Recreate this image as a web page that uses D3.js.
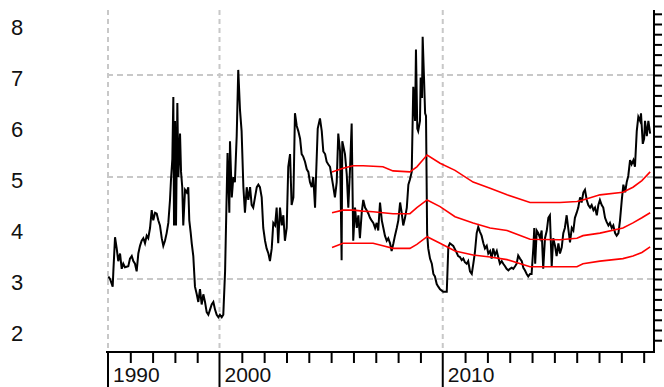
<!DOCTYPE html>
<html>
<head>
<meta charset="utf-8">
<script src="https://cdn.jsdelivr.net/npm/d3@7"></script>
<style>
  body { margin: 0; background: #fff; }
  svg { display: block; font-family: Arial, "Liberation Sans", sans-serif; }
</style>
</head>
<body>
<div id="chart"></div>
<script>
// observed series (decimal year, value)
const dates = [
  1990.03, 1990.18, 1990.42, 1990.48, 1990.63, 1990.78, 1990.92, 1991.08, 1991.23, 1991.37,
  1991.52, 1991.82, 1991.97, 1992.13, 1992.27, 1992.42, 1992.57, 1992.72, 1992.87, 1993.02,
  1993.17, 1993.32, 1993.47, 1993.61, 1993.77, 1993.92, 1994.06, 1994.22, 1994.37, 1994.51,
  1994.66, 1994.82, 1994.96, 1995.11, 1995.26, 1995.41, 1995.56, 1995.65, 1995.77, 1995.86,
  1995.92, 1996.01, 1996.10, 1996.22, 1996.31, 1996.46, 1996.55, 1996.66, 1996.75, 1996.91,
  1997.06, 1997.20, 1997.29, 1997.42, 1997.51, 1997.65, 1997.80, 1997.96, 1998.10, 1998.25,
  1998.40, 1998.55, 1998.70, 1998.85, 1999.00, 1999.15, 1999.30, 1999.45, 1999.60, 1999.75,
  1999.90, 2000.02, 2000.10, 2000.17, 2000.25, 2000.36, 2000.44, 2000.47, 2000.55, 2000.62,
  2000.69, 2000.77, 2000.84, 2000.92, 2000.99, 2001.07, 2001.14, 2001.22, 2001.29, 2001.37,
  2001.44, 2001.51, 2001.59, 2001.67, 2001.74, 2001.81, 2001.89, 2001.96, 2002.04, 2002.11,
  2002.19, 2002.26, 2002.34, 2002.41, 2002.49, 2002.56, 2002.63, 2002.71, 2002.79, 2002.86,
  2002.93, 2003.01, 2003.08, 2003.16, 2003.23, 2003.31, 2003.38, 2003.46, 2003.53, 2003.61,
  2003.68, 2003.75, 2003.83, 2003.91, 2003.98, 2004.05, 2004.13, 2004.20, 2004.28, 2004.32,
  2004.40, 2004.50, 2004.58, 2004.65, 2004.73, 2004.80, 2004.87, 2004.95, 2005.10, 2005.17,
  2005.25, 2005.32, 2005.40, 2005.47, 2005.50, 2005.55, 2005.62, 2005.70, 2005.77, 2005.85,
  2005.92, 2005.99, 2006.07, 2006.15, 2006.22, 2006.29, 2006.37, 2006.44, 2006.52, 2006.59,
  2006.67, 2006.74, 2006.81, 2006.89, 2006.97, 2007.04, 2007.11, 2007.19, 2007.27, 2007.34,
  2007.41, 2007.49, 2007.56, 2007.64, 2007.71, 2007.79, 2007.86, 2007.94, 2008.01, 2008.09,
  2008.16, 2008.23, 2008.31, 2008.39, 2008.46, 2008.53, 2008.61, 2008.68, 2008.76, 2008.80,
  2008.86, 2008.90, 2008.98, 2009.01, 2009.07, 2009.10, 2009.16, 2009.21, 2009.25, 2009.30,
  2009.35, 2009.43, 2009.51, 2009.58, 2009.65, 2009.73, 2009.80, 2009.88, 2010.02, 2010.18,
  2010.25, 2010.32, 2010.47, 2010.62, 2010.69, 2010.77, 2010.85, 2010.92, 2010.99, 2011.07,
  2011.14, 2011.22, 2011.30, 2011.37, 2011.44, 2011.52, 2011.59, 2011.67, 2011.74, 2011.82,
  2011.89, 2011.97, 2012.04, 2012.12, 2012.19, 2012.26, 2012.34, 2012.42, 2012.49, 2012.56,
  2012.64, 2012.71, 2012.79, 2012.86, 2012.94, 2013.01, 2013.09, 2013.16, 2013.24, 2013.31,
  2013.38, 2013.46, 2013.54, 2013.61, 2013.68, 2013.76, 2013.83, 2013.91, 2013.98, 2014.06,
  2014.10, 2014.14, 2014.21, 2014.28, 2014.36, 2014.43, 2014.50, 2014.58, 2014.66, 2014.73,
  2014.80, 2014.88, 2014.95, 2015.03, 2015.10, 2015.18, 2015.25, 2015.33, 2015.40, 2015.47,
  2015.55, 2015.62, 2015.70, 2015.78, 2015.85, 2015.92, 2016.00, 2016.07, 2016.15, 2016.22,
  2016.30, 2016.37, 2016.45, 2016.52, 2016.60, 2016.67, 2016.75, 2016.82, 2016.90, 2016.97,
  2017.04, 2017.12, 2017.19, 2017.27, 2017.34, 2017.42, 2017.49, 2017.57, 2017.64, 2017.72,
  2017.79, 2017.87, 2017.94, 2018.02, 2018.09, 2018.17, 2018.24, 2018.31, 2018.39, 2018.46,
  2018.54, 2018.61, 2018.69, 2018.76, 2018.84, 2018.88, 2018.96, 2019.02, 2019.06, 2019.14,
  2019.21, 2019.29
];
const rates = [
  3.05, 3.0, 2.85, 3.15, 3.82, 3.6, 3.35, 3.5, 3.2, 3.3,
  3.23, 3.25, 3.4, 3.45, 3.35, 3.3, 3.15, 3.5, 3.65, 3.75,
  3.8, 3.7, 3.85, 3.8, 4.0, 4.35, 4.15, 4.3, 4.28, 4.15,
  4.05, 3.8, 3.65, 3.75, 3.9, 4.1, 4.55, 4.95, 5.35, 6.57,
  4.05, 6.1, 4.05, 6.45, 5.0, 5.85, 5.1, 4.8, 4.05, 4.75,
  4.7, 4.8, 4.15, 3.9, 3.7, 3.45, 2.85, 2.7, 2.55, 2.8,
  2.5, 2.7, 2.55, 2.35, 2.3, 2.4, 2.5, 2.55, 2.4, 2.3,
  2.25, 2.3, 2.25, 2.3, 3.15, 5.47, 4.3, 5.7, 4.6, 5.0,
  4.9, 5.8, 7.1, 6.3, 5.9, 4.8, 4.3, 4.8, 4.55, 4.8,
  4.45, 4.4, 4.6, 4.8, 4.85, 4.8, 4.6, 4.0, 3.75, 3.6,
  3.5, 3.35, 3.6, 4.1, 4.05, 4.4, 3.7, 4.4, 4.05, 4.25,
  3.75, 4.0, 5.2, 5.45, 4.45, 4.6, 6.25, 6.0, 5.9, 5.75,
  5.45, 5.4, 5.3, 5.15, 5.1, 4.9, 4.8, 5.0, 4.4, 4.95,
  5.95, 6.15, 5.9, 5.5, 5.45, 5.3, 5.25, 5.2, 4.8, 4.6,
  4.9, 5.85, 5.5, 3.37, 5.7, 5.6, 5.45, 5.05, 4.4, 5.2,
  6.05, 3.75, 4.4, 4.0, 4.25, 3.8, 4.3, 4.55, 4.4, 4.35,
  4.28, 4.2, 4.15, 4.1, 4.0, 4.1, 3.95, 4.5, 4.15, 4.0,
  3.85, 3.75, 3.8, 3.7, 3.55, 3.7, 3.85, 4.0, 4.15, 4.5,
  4.3, 4.05, 4.2, 4.4, 4.85, 4.95, 5.1, 6.77, 6.1, 7.5,
  5.95, 5.9, 6.1, 6.95, 6.55, 7.75, 6.95, 6.25, 6.2, 3.9,
  3.6, 3.4, 3.3, 3.1, 3.05, 2.9, 2.85, 2.8, 2.75, 2.75,
  3.63, 3.7, 3.65, 3.52, 3.45, 3.43, 3.37, 3.4, 3.33, 3.3,
  3.35, 3.15, 3.1, 3.3, 3.52, 3.9, 4.02, 3.92, 3.85, 3.7,
  3.6, 3.65, 3.5, 3.55, 3.4, 3.6, 3.47, 3.55, 3.42, 3.3,
  3.35, 3.3, 3.25, 3.2, 3.17, 3.2, 3.22, 3.2, 3.25, 3.3,
  3.46, 3.4, 3.35, 3.22, 3.17, 3.1, 3.05, 3.1, 3.1, 3.63,
  4.0, 3.3, 3.95, 3.9, 3.8, 3.95, 3.2, 3.8, 3.95, 4.2,
  4.25, 3.25, 3.8, 3.65, 3.45, 3.7, 3.5, 3.62, 3.9, 4.0,
  4.25, 4.0, 3.72, 4.0, 3.95, 4.2, 4.3, 4.4, 4.6, 4.5,
  4.7, 4.75, 4.55, 4.45, 4.4, 4.45, 4.35, 4.4, 4.25, 4.45,
  4.55, 4.45, 4.4, 4.2, 4.12, 4.05, 4.1, 4.0, 4.05, 3.9,
  3.85, 3.9, 4.15, 4.55, 4.85, 4.7, 4.9, 5.02, 5.33, 5.25,
  5.33, 5.2, 5.9, 6.18, 6.1, 6.25, 5.65, 5.75, 6.1, 5.8,
  6.1, 5.85
];

// red band (upper / middle / lower)
const bandDates = [
  2005.04, 2005.53, 2005.98, 2006.43, 2006.88, 2007.32, 2007.77, 2008.53, 2008.84, 2009.30,
  2009.88, 2010.55, 2011.36, 2012.12, 2012.88, 2013.91, 2015.25, 2016.01, 2016.28, 2017.04,
  2018.07, 2018.52, 2018.92, 2019.29
];
const bandUpper = [
  5.1, 5.17, 5.22, 5.22, 5.21, 5.2, 5.12, 5.1, 5.2, 5.43,
  5.27, 5.13, 4.9, 4.78, 4.65, 4.5, 4.5, 4.52, 4.55, 4.65,
  4.7, 4.8, 4.93, 5.1
];
const bandMiddle = [
  4.3, 4.35, 4.35, 4.33, 4.32, 4.3, 4.28, 4.28, 4.4, 4.55,
  4.42, 4.22, 4.1, 4.0, 3.95, 3.78, 3.77, 3.8, 3.85, 3.9,
  4.0, 4.1, 4.2, 4.3
];
const bandLower = [
  3.62, 3.7, 3.7, 3.7, 3.7, 3.65, 3.6, 3.6, 3.68, 3.83,
  3.7, 3.55, 3.47, 3.43, 3.38, 3.24, 3.24, 3.24, 3.3, 3.35,
  3.4, 3.45, 3.52, 3.63
];

const yLabels = [2, 3, 4, 5, 6, 7, 8];
const gridValues = [3, 5, 7];
const decadeYears = [1990, 2000, 2010];
const minorYears = [1992, 1994, 1996, 1998, 2001, 2002, 2003, 2004, 2005, 2006, 2007, 2008, 2009,
  2011, 2012, 2013, 2014, 2015, 2016, 2017, 2018, 2019];

const width = 664;
const height = 387;
const plotLeft = 107, plotRight = 654, plotTop = 10, plotBottom = 352;

// the nineties are squeezed into half the width per year
const x = d3.scaleLinear().domain([1990, 2000, 2020]).range([108, 219.5, 666]);
const y = d3.scaleLinear().domain([2, 8]).range([330, 24]);

const svg = d3.select('#chart').append('svg')
    .attr('width', width)
    .attr('height', height);

// dashed grid
svg.append('g')
    .selectAll('line')
    .data(gridValues)
    .enter()
    .append('line')
    .attr('x1', plotLeft)
    .attr('x2', plotRight)
    .attr('y1', d => y(d))
    .attr('y2', d => y(d))
    .attr('stroke', '#c8c8c8')
    .attr('stroke-width', 2)
    .attr('stroke-dasharray', '6,4');

svg.append('g')
    .selectAll('line')
    .data(decadeYears)
    .enter()
    .append('line')
    .attr('x1', d => x(d))
    .attr('x2', d => x(d))
    .attr('y1', plotTop)
    .attr('y2', plotBottom)
    .attr('stroke', '#c8c8c8')
    .attr('stroke-width', 2)
    .attr('stroke-dasharray', '5,4');

// series
const line = d3.line()
    .x(d => x(d[0]))
    .y(d => y(d[1]));

svg.append('path')
    .datum(d3.zip(dates, rates))
    .attr('fill', 'none')
    .attr('stroke', '#000')
    .attr('stroke-width', 2)
    .attr('d', line);

[bandUpper, bandMiddle, bandLower].forEach(band => {
    svg.append('path')
        .datum(d3.zip(bandDates, band))
        .attr('fill', 'none')
        .attr('stroke', '#ff0000')
        .attr('stroke-width', 1.6)
        .attr('d', line);
});

// bottom axis
const xAxis = svg.append('g')
    .attr('transform', `translate(0,${plotBottom})`)
    .call(d3.axisBottom(x).tickValues(minorYears).tickSize(11).tickFormat(''));
xAxis.select('.domain').remove();
xAxis.selectAll('.tick line').attr('stroke', '#000').attr('stroke-width', 2);

svg.append('line')
    .attr('x1', plotLeft - 1)
    .attr('x2', plotRight + 1)
    .attr('y1', plotBottom)
    .attr('y2', plotBottom)
    .attr('stroke', '#000')
    .attr('stroke-width', 2);

svg.append('g')
    .selectAll('line')
    .data(decadeYears)
    .enter()
    .append('line')
    .attr('x1', d => x(d))
    .attr('x2', d => x(d))
    .attr('y1', plotBottom)
    .attr('y2', height)
    .attr('stroke', '#000')
    .attr('stroke-width', 2);

svg.append('g')
    .selectAll('text')
    .data(decadeYears)
    .enter()
    .append('text')
    .attr('x', d => x(d) + 5)
    .attr('y', 382)
    .attr('font-size', '21px')
    .attr('fill', '#111')
    .text(d => d);

// right axis, minor ticks only
const yAxis = svg.append('g')
    .attr('transform', `translate(${plotRight},0)`)
    .call(d3.axisRight(y).tickValues(d3.range(1.8, 8.21, 0.2)).tickSize(8).tickFormat(''));
yAxis.select('.domain').remove();
yAxis.selectAll('.tick line').attr('stroke', '#000').attr('stroke-width', 2);

svg.append('line')
    .attr('x1', plotRight)
    .attr('x2', plotRight)
    .attr('y1', plotTop)
    .attr('y2', plotBottom + 1)
    .attr('stroke', '#000')
    .attr('stroke-width', 2);

// left labels
svg.append('g')
    .selectAll('text')
    .data(yLabels)
    .enter()
    .append('text')
    .attr('x', 17)
    .attr('y', d => y(d) + 11)
    .attr('text-anchor', 'middle')
    .attr('font-size', '22px')
    .attr('fill', '#111')
    .text(d => d);
</script>
</body>
</html>
